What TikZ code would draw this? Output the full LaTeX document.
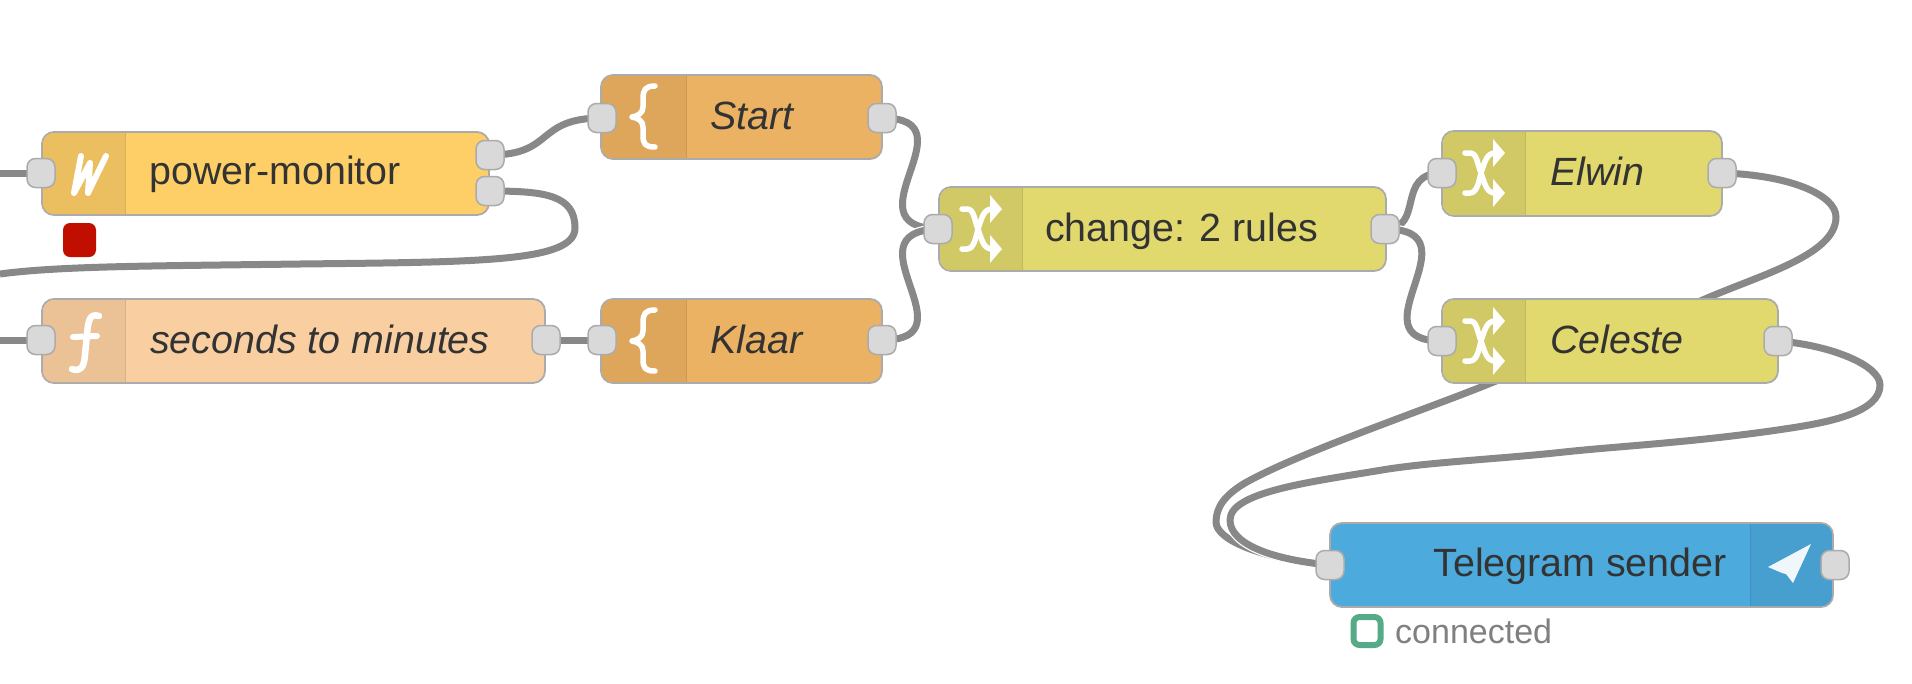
\documentclass[tikz,border=0pt]{standalone}
\usepackage{fontspec}
\setmainfont{Liberation Sans}
\pgfdeclarelayer{wires}
\pgfsetlayers{wires,main}
\definecolor{wirecol}{HTML}{888888}
\definecolor{edgecol}{HTML}{ABABAB}
\definecolor{portfill}{HTML}{D9D9D9}
\definecolor{txt}{HTML}{333333}
\definecolor{pmfill}{HTML}{FDCF66}
\definecolor{pmband}{HTML}{EBBF5F}
\definecolor{fnfill}{HTML}{F9CFA2}
\definecolor{fnband}{HTML}{EBC196}
\definecolor{tpfill}{HTML}{EBB263}
\definecolor{tpband}{HTML}{DDA65B}
\definecolor{chfill}{HTML}{E2D96E}
\definecolor{chband}{HTML}{D1C966}
\definecolor{tgfill}{HTML}{4DAADD}
\definecolor{tgband}{HTML}{479FCF}
\definecolor{okgreen}{HTML}{55AA88}
\definecolor{errred}{HTML}{C00F00}
\tikzset{
  x=1pt,y=-1pt,
  flownode/.style={rectangle,rounded corners=12pt,draw=edgecol,line width=1.8pt,inner sep=0pt,outer sep=0pt},
  portbox/.style={rectangle,rounded corners=8.5pt,draw=edgecol,line width=1.5pt,fill=portfill,inner sep=0pt,outer sep=0pt,minimum width=28pt,minimum height=29pt},
  wire/.style={draw=wirecol,line width=7pt,preaction={draw=white,line width=9.5pt}},
  lbl/.style={anchor=base west,inner sep=0pt,text=txt,font=\fontsize{39.4}{47}\selectfont},
  ilbl/.style={lbl,font=\fontsize{39.4}{47}\selectfont\itshape},
  icon/.style={draw=white,line width=6pt,line cap=round,line join=round},
}
% name x0 y0 x1 y1 fill
\newcommand\flowbox[6]{\node[flownode,fill=#6,minimum width={(#4-#2)*1pt},minimum height={(#5-#3)*1pt}] (#1) at ({(#2+#4)/2},{(#3+#5)/2}) {};}
% x0 y0 xdiv y1 colour : band on the left of a node
\newcommand\bandleft[5]{\begin{scope}
  \clip[rounded corners=11pt] (#1+1,#2+1) rectangle (#3+40,#4-1);
  \fill[#5] (#1,#2) rectangle (#3,#4);
  \end{scope}
  \draw[#5!92!black,line width=1pt] (#3,#2+1) -- (#3,#4-1);}
% shuffle icon, origin at middle-left of the icon
\newcommand\shuffle[2]{\begin{scope}[shift={(#1,#2)}]
  \draw[icon,line width=5.5pt] (2,-20) -- (7,-20) .. controls (14,-20) and (14,-10) .. (18,0) .. controls (22,12) and (24,20) .. (32,20);
  \draw[icon,line width=5.5pt] (2,20) -- (7,20) .. controls (14,20) and (16,8) .. (18,0) .. controls (22,-12) and (24,-20) .. (32,-20);
  \fill[white] (30,-34) -- (42,-20) -- (30,-6) -- cycle;
  \fill[white] (30,6) -- (42,20) -- (30,34) -- cycle;
\end{scope}}
% brace icon
\newcommand\bracei[2]{\begin{scope}[shift={(#1,#2)}]
  \draw[icon,line width=5.5pt] (24,-31) .. controls (14,-31) and (12,-27) .. (12,-18) -- (12,-10) .. controls (12,-4) and (7,-1) .. (1,0) .. controls (7,1) and (12,4) .. (12,10) -- (12,18) .. controls (12,27) and (14,30) .. (24,30);
\end{scope}}
\begin{document}
\begin{tikzpicture}
\path[use as bounding box] (0,0) rectangle (1912,683);

% bodies
\flowbox{pm}{42}{132}{489}{215}{pmfill}
\bandleft{42}{132}{125}{215}{pmband}
\flowbox{fn}{42}{299}{545}{383}{fnfill}
\bandleft{42}{299}{125}{383}{fnband}
\flowbox{st}{601}{75}{882}{159}{tpfill}
\bandleft{601}{75}{686}{159}{tpband}
\flowbox{kl}{601}{299}{882}{383}{tpfill}
\bandleft{601}{299}{686}{383}{tpband}
\flowbox{ch}{939}{187}{1386}{271}{chfill}
\bandleft{939}{187}{1022}{271}{chband}
\flowbox{el}{1442}{131}{1722}{216}{chfill}
\bandleft{1442}{131}{1525}{216}{chband}
\flowbox{ce}{1442}{299}{1778}{383}{chfill}
\bandleft{1442}{299}{1525}{383}{chband}
\flowbox{tg}{1330}{523}{1833}{607}{tgfill}
\begin{scope}
\clip[rounded corners=11pt] (1710,524) rectangle (1832,606);
\fill[tgband] (1750,523) rectangle (1833,607);
\end{scope}
\draw[tgband!92!black,line width=1pt] (1750,524) -- (1750,606);

% icons
\draw[icon,line width=6pt] (81,156) -- (74,193) -- (90,163) -- (88,193) -- (106,156);
\draw[icon,line width=6.5pt] (99,316) .. controls (90,313) and (88,320) .. (87,335) -- (85,355) .. controls (84,368) and (80,372) .. (72,369);
\draw[icon,line width=6pt] (73,337) -- (97,336);
\bracei{631}{117}
\bracei{631}{341}
\shuffle{960}{229}
\shuffle{1463}{173}
\shuffle{1463}{341}
\fill[white,opacity=.92] (1811,544) -- (1768,567) -- (1782,573) -- (1786,574) -- (1793,583) -- cycle;

% ports
\node[portbox] (pmIn) at (41,173) {};
\node[portbox] (pmOutA) at (490,155) {};
\node[portbox] (pmOutB) at (490,191) {};
\node[portbox] (fnIn) at (41,340) {};
\node[portbox] (fnOut) at (546,340) {};
\node[portbox] (stIn) at (602,118) {};
\node[portbox] (stOut) at (882,118) {};
\node[portbox] (klIn) at (602,340) {};
\node[portbox] (klOut) at (882,340) {};
\node[portbox] (chIn) at (938,229) {};
\node[portbox] (chOut) at (1385,229) {};
\node[portbox] (elIn) at (1442,173) {};
\node[portbox] (elOut) at (1722,173) {};
\node[portbox] (ceIn) at (1442,341) {};
\node[portbox] (ceOut) at (1778,341) {};
\node[portbox] (tgIn) at (1330,565) {};
\node[portbox] (tgOut) at (1835,565) {};

% labels
\node[lbl] (pmT) at (149,184) {power-monitor};
\node[ilbl] (fnT) at (150,353) {seconds to minutes};
\node[ilbl] (stT) at (710,129) {Start};
\node[ilbl] (klT) at (710,353) {Klaar};
\node[lbl] (chT) at (1045,241) {change: 2 rules};
\node[ilbl] (elT) at (1550,185) {Elwin};
\node[ilbl] (ceT) at (1550,353) {Celeste};
\node[lbl,anchor=base east] (tgT) at (1727,576) {Telegram sender};

% status
\node[rectangle,rounded corners=7pt,fill=errred,inner sep=0pt,minimum width=33pt,minimum height=34pt] (pmStatus) at (79.5,240) {};
\node[rectangle,rounded corners=6pt,draw=okgreen,line width=6pt,fill=white,inner sep=0pt,minimum width=27pt,minimum height=28pt] (tgStatus) at (1367,631) {};
\node[lbl,text=black!50,font=\fontsize{34}{41}\selectfont] (tgStatusT) at (1395,643) {connected};

% free ends
\coordinate (stubA) at (0,173);
\coordinate (stubB) at (0,340);
\coordinate (stubC) at (0,274);

% wires
\begin{pgfonlayer}{wires}
\fill[white] (0,0) rectangle (1912,683);
\draw[wire] (stubA) -- (pmIn.center);
\draw[wire] (stubB) -- (fnIn.center);
\draw[wire] (pmOutB.center) .. controls (545,191) and (575,195) .. (575,228) .. controls (575,262) and (480,262) .. (300,264) .. controls (150,266) and (60,266) .. (stubC);
\draw[wire] (pmOutA.center) .. controls (555,155) and (535,118) .. (stIn.center);
\draw[wire] (fnOut.center) -- (klIn.center);
\draw[wire] (stOut.center) .. controls (975,118) and (845,226) .. (chIn.center);
\draw[wire] (klOut.center) .. controls (975,340) and (845,232) .. (chIn.center);
\draw[wire] (chOut.center) .. controls (1425,229) and (1395,173) .. (elIn.center);
\draw[wire] (chOut.center) .. controls (1480,229) and (1350,341) .. (ceIn.center);
\draw[wire] (elOut.center) .. controls (1790,175) and (1836,195) .. (1836,217) .. controls (1836,255) and (1760,275) .. (1705,299) .. controls (1640,327) and (1555,357) .. (1491,383) .. controls (1430,408) and (1300,452) .. (1245,483) .. controls (1225,495) and (1216,507) .. (1216,522) .. controls (1216,540) and (1262,559) .. (tgIn.center);
\draw[wire] (ceOut.center) .. controls (1830,345) and (1880,365) .. (1880,385) .. controls (1880,412) and (1830,422) .. (1791,428) .. controls (1700,442) and (1620,446) .. (1564,452) .. controls (1500,459) and (1430,462) .. (1382,470) .. controls (1310,482) and (1230,492) .. (1230,520) .. controls (1230,545) and (1275,560) .. (tgIn.center);
\end{pgfonlayer}
\end{tikzpicture}
\end{document}
